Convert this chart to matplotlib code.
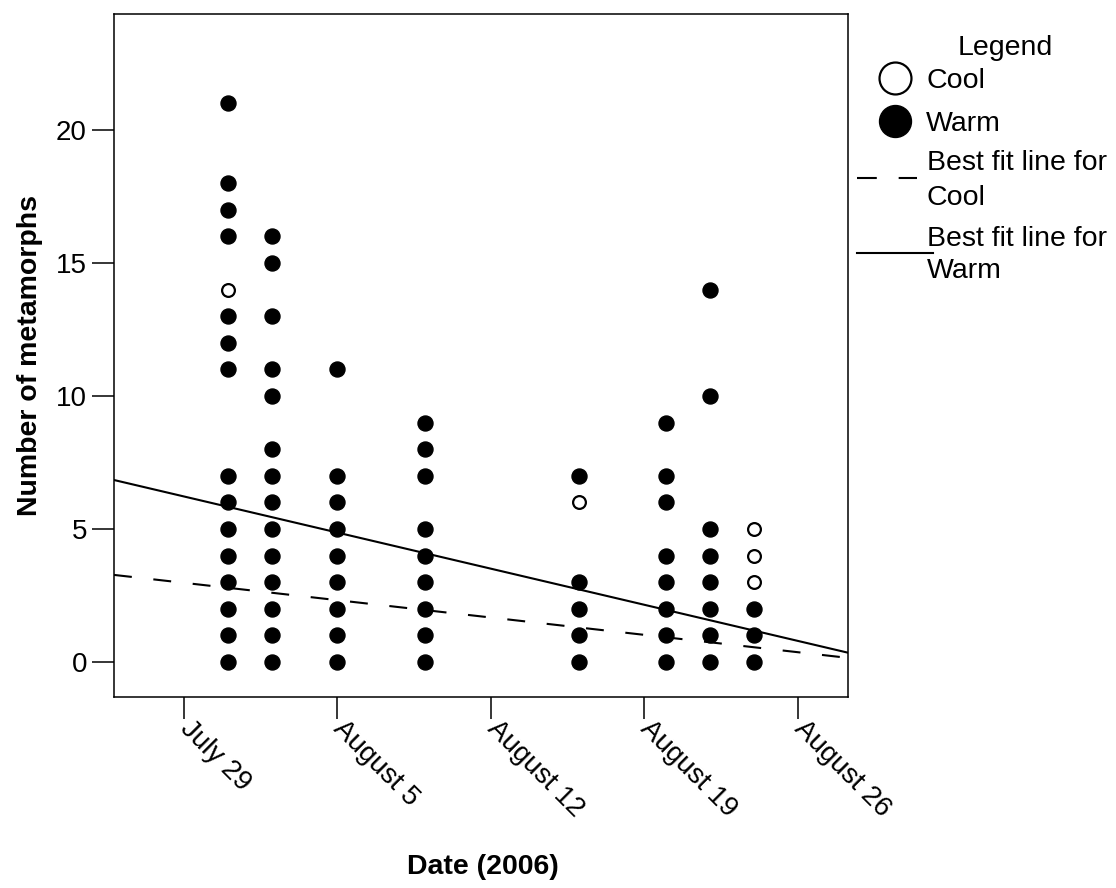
import numpy as np
import matplotlib
matplotlib.use('Agg')
from matplotlib import pyplot as plt

plt.rcParams['font.family'] = ['Liberation Sans', 'DejaVu Sans']

# days counted from July 29, 2006
tick_days = [0, 7, 14, 21, 28]
tick_labels = ['July 29', 'August 5', 'August 12', 'August 19', 'August 26']

# warm counts per sampling date
warm = {
    2: [0, 1, 2, 3, 4, 5, 6, 7, 11, 12, 13, 16, 17, 18, 21],
    4: [0, 1, 2, 3, 4, 5, 6, 7, 8, 10, 11, 13, 15, 16],
    7: [0, 1, 2, 3, 4, 5, 6, 7, 11],
    11: [0, 1, 2, 3, 4, 5, 7, 8, 9],
    18: [0, 1, 2, 3, 7],
    22: [0, 1, 2, 3, 4, 6, 7, 9],
    24: [0, 1, 2, 3, 4, 5, 10, 14],
    26: [0, 1, 2],
}
# cool counts per sampling date
cool = {
    2: [14],
    18: [6],
    26: [3, 4, 5],
}

# best fit lines (intercept at July 29, slope per day)
warm_fit = (6.22, -0.194)
cool_fit = (2.973, -0.0932)

XLIM = (-3.19, 30.28)
YLIM = (-1.32, 24.36)

W, H = 1116, 888
fig = plt.figure(figsize=(W / 100, H / 100), dpi=100)
ax = fig.add_axes([114 / W, (H - 697) / H, (848 - 114) / W, (697 - 14) / H])

wx = [d for d, v in warm.items() for _ in v]
wy = [c for v in warm.values() for c in v]
cx = [d for d, v in cool.items() for _ in v]
cy = [c for v in cool.values() for c in v]

xs = np.array(XLIM)
ax.plot(xs, warm_fit[0] + warm_fit[1] * xs, color='black', lw=1.5, zorder=2)
ax.plot(xs, cool_fit[0] + cool_fit[1] * xs, color='black', lw=1.5,
        dashes=(8.6, 10.4), zorder=2)

ax.plot(wx, wy, 'o', ms=10.8, color='black', mec='black', zorder=3)
ax.plot(cx, cy, 'o', ms=9.2, mfc='white', mec='black', mew=1.6, zorder=3)

ax.set_xlim(*XLIM)
ax.set_ylim(*YLIM)
ax.set_yticks([0, 5, 10, 15, 20])
ax.set_xticks(tick_days)
ax.set_xticklabels(tick_labels, rotation=-45, ha='left', va='center',
                   rotation_mode='anchor')
ax.tick_params(axis='y', length=16, width=1.1, labelsize=20, pad=3.5)
ax.tick_params(axis='x', length=16, width=1.1, labelsize=20, pad=4)
for s in ax.spines.values():
    s.set_linewidth(1.1)

fig.text(30 / W, 1 - 355 / H, 'Number of metamorphs', rotation=90,
         ha='center', va='center', fontsize=20.5, fontweight='bold')
fig.text(483 / W, 1 - 867 / H, 'Date (2006)', ha='center', va='center',
         fontsize=20.5, fontweight='bold')

# legend drawn in pixel coordinates
lax = fig.add_axes([0, 0, 1, 1])
lax.set_xlim(0, W)
lax.set_ylim(H, 0)
lax.axis('off')
fs = 20.5
lax.text(1005, 55, 'Legend', ha='center', va='baseline', fontsize=fs)
lax.plot([895], [78], 'o', ms=23, mfc='white', mec='black', mew=1.6)
lax.text(926, 88, 'Cool', va='baseline', fontsize=fs)
lax.plot([895], [121], 'o', ms=23, color='black')
lax.text(926, 131, 'Warm', va='baseline', fontsize=fs)
lax.plot([857, 917], [178, 178], color='black', lw=1.5, dashes=(9.5, 10.5))
lax.text(927, 170, 'Best fit line for', va='baseline', fontsize=fs)
lax.text(927, 205, 'Cool', va='baseline', fontsize=fs)
lax.plot([857, 933], [253, 253], color='black', lw=1.5)
lax.text(927, 246, 'Best fit line for', va='baseline', fontsize=fs)
lax.text(927, 278, 'Warm', va='baseline', fontsize=fs)

fig.savefig('out.png', dpi=100)
